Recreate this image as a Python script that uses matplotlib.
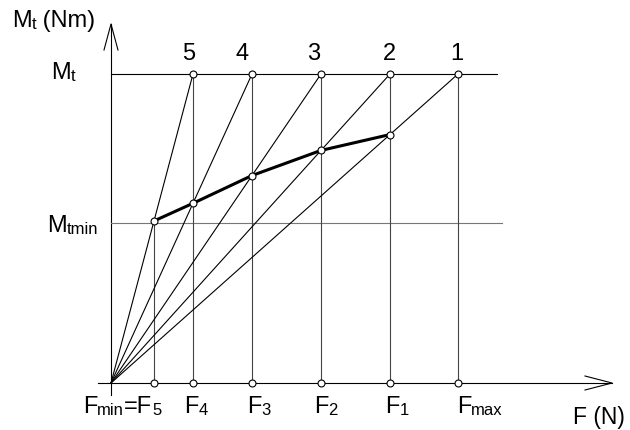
import numpy as np
import matplotlib
matplotlib.use("Agg")
import matplotlib.pyplot as plt

plt.rcParams['font.family'] = ['Liberation Sans', 'DejaVu Sans']

# Fuerzas (unidades del dibujo): Fmin=F5, F4, F3, F2, F1, Fmax
f_names = [[('F', 'b'), ('min', 's'), ('=F', 'b'), ('5', 's')],
           [('F', 'b'), ('4', 's')],
           [('F', 'b'), ('3', 's')],
           [('F', 'b'), ('2', 's')],
           [('F', 'b'), ('1', 's')],
           [('F', 'b'), ('max', 's')]]
f_values = [43, 82, 141, 210, 279, 347]

# Momentos
mt_max = 309
mt_min = 160

# Rectas numeradas 1..5: del origen hasta (F anterior, Mt)
ray_numbers = ['1', '2', '3', '4', '5']
ray_end = [347, 279, 210, 141, 82]    # Fmax, F1, F2, F3, F4
ray_force = [279, 210, 141, 82, 43]   # F1, F2, F3, F4, F5

BIG = 17
SMALL = 12


def label(ax, x, y, parts, big=BIG):
    # texto con subindices: cada trozo pegado al anterior
    size = {'b': big, 's': SMALL}
    t = ax.text(x, y, parts[0][0], fontsize=size[parts[0][1]], ha='left', va='baseline')
    for s, k in parts[1:]:
        t = ax.annotate(s, xy=(1, 0), xycoords=t, fontsize=size[k], ha='left', va='bottom')
    return t


fig = plt.figure(figsize=(6.3, 4.3), dpi=100)
ax = fig.add_axes([0, 0, 1, 1])
ax.set_xlim(-111, 519)
ax.set_ylim(-47, 383)
ax.axis('off')

thin = 0.8

# ejes con flechas abiertas
ax.plot([0, 0], [-12, 359], color='black', lw=thin)
ax.plot([-7, 0, 7], [333, 359, 333], color='black', lw=thin)
ax.plot([-13, 501], [0, 0], color='black', lw=thin)
ax.plot([474, 501, 474], [7, 0, -7], color='black', lw=thin)

# horizontales Mt y Mtmin
ax.plot([0, 386], [mt_max, mt_max], color='black', lw=thin)
ax.plot([0, 391], [mt_min, mt_min], color='#777777', lw=thin)

# verticales
curve_y = [mt_max * f / e for f, e in zip(ray_force, ray_end)]
ax.plot([f_values[0], f_values[0]], [0, curve_y[-1]], color='#444444', lw=thin)
for f in f_values[1:]:
    ax.plot([f, f], [0, mt_max], color='#444444', lw=thin)

# rectas desde el origen
for e in ray_end:
    ax.plot([0, e], [0, mt_max], color='black', lw=thin)

# curva Mt(F)
ax.plot(ray_force, curve_y, color='black', lw=2.2, solid_capstyle='round')

# puntos
mk = dict(marker='o', ms=5, mfc='white', mec='black', mew=0.8, ls='none', zorder=5)
ax.plot(ray_force, curve_y, **mk)
ax.plot(ray_end, [mt_max] * len(ray_end), **mk)
ax.plot(f_values, [0] * len(f_values), **mk)

# numeros de las rectas
num_dx = [-1, -1, -7, -10, -4]
for n, e, dx in zip(ray_numbers, ray_end, num_dx):
    ax.text(e + dx, 323, n, fontsize=BIG, ha='center', va='baseline')

# etiquetas del eje F
f_left = [-28, 73, 136, 203, 274, 346]
for parts, x in zip(f_names, f_left):
    label(ax, x, -30, parts)
label(ax, 462, -41, [('F (N)', 'b')], big=16.5)

# etiquetas del eje Mt
label(ax, -99, 356, [('M', 'b'), ('t', 's'), (' (Nm)', 'b')])
label(ax, -60, 304, [('M', 'b'), ('t', 's')])
label(ax, -64, 151, [('M', 'b'), ('tmin', 's')])

fig.savefig('out.png', dpi=100)
